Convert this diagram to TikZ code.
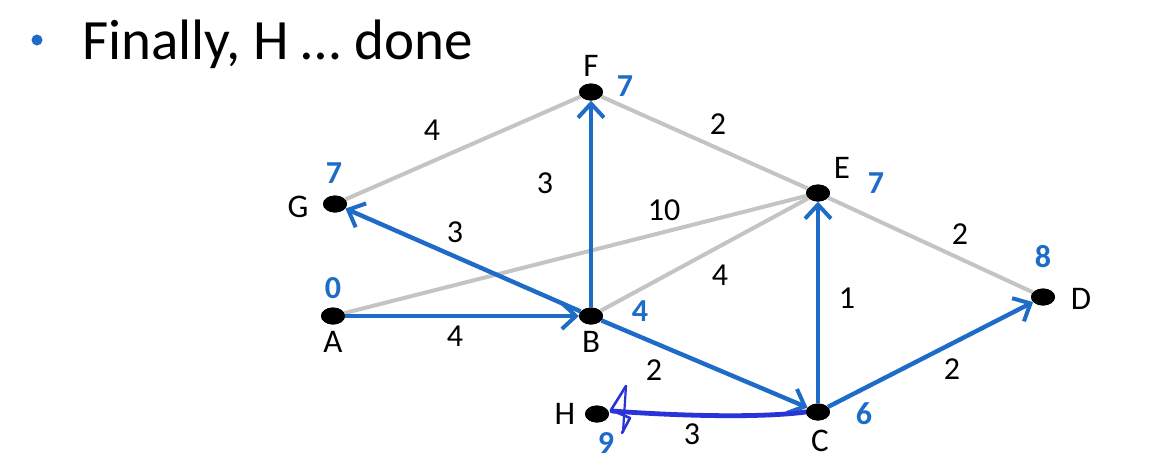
\documentclass[tikz,border=0pt]{standalone}
\usepackage{fontspec}
\setmainfont{Carlito}
\usetikzlibrary{shapes.geometric,arrows.meta}
\definecolor{myblue}{HTML}{1F6CC8}
\definecolor{penblue}{HTML}{2A33D6}
\definecolor{edgegray}{HTML}{C4C4C4}
\tikzset{
  vtx/.style={ellipse,fill=black,minimum width=24pt,minimum height=17pt,inner sep=0pt},
  lbl/.style={font=\fontsize{33}{33}\selectfont,text=black,inner sep=0pt},
  dist/.style={font=\fontsize{32}{32}\selectfont\bfseries,text=myblue,inner sep=0pt},
  wt/.style={font=\fontsize{32}{32}\selectfont,text=black,inner sep=0pt},
  grayedge/.style={draw=edgegray,line width=4pt},
  blueedge/.style={draw=myblue,line width=4.4pt,-{Straight Barb[length=14pt,width=26pt,line width=4pt]}},
}
\begin{document}
\begin{tikzpicture}[x=1pt,y=-1pt]
\useasboundingbox (0,0) rectangle (1162,472);
\fill[white] (0,0) rectangle (1162,472);
% title
\fill[myblue] (37,40) circle (5.5);
\node[anchor=base west,inner sep=0pt,font=\fontsize{57}{57}\selectfont] (title) at (82,59) {Finally, H … done};
% vertices
\node[vtx] (F) at (591,92) {};
\node[vtx] (G) at (335,204) {};
\node[vtx] (E) at (818,193) {};
\node[vtx] (A) at (333,316) {};
\node[vtx] (B) at (591,316) {};
\node[vtx] (D) at (1043,297) {};
\node[vtx] (C) at (818,412) {};
\node[vtx] (H) at (597,414) {};
% gray edges
\draw[grayedge] (G) -- (F);
\draw[grayedge] (F) -- (E);
\draw[grayedge] (A) -- (E);
\draw[grayedge] (B) -- (E);
\draw[grayedge] (E) -- (D);
% blue edges
\draw[blueedge] (A) -- (B);
\draw[blueedge] (B) -- (G);
\draw[blueedge] (B) -- (F);
\draw[blueedge] (B) -- (C);
\draw[blueedge] (C) -- (E);
\draw[blueedge] (C) -- (D);
% hand-drawn arrow C -> H
\coordinate (h1) at (612,411);
\draw[penblue,line width=4.8pt,line cap=round] (C.west) .. controls (760,418) and (680,416) .. (h1);
\draw[penblue,line width=2.6pt,line cap=round,line join=round] (626,386) -- (611,410) -- (630,418) -- (622,433);
\draw[penblue,line width=2.2pt,line cap=round] (626,386) -- (623,432);
% redraw vertices on top
\foreach \n in {F,G,E,A,B,D,C,H} \fill (\n) ellipse (12pt and 8.5pt);
% vertex labels
\node[lbl] (lF) at (591,66) {F};
\node[lbl] (lG) at (298,207) {G};
\node[lbl] (lE) at (842,168) {E};
\node[lbl] (lA) at (333,342) {A};
\node[lbl] (lB) at (591,342) {B};
\node[lbl] (lD) at (1081,299) {D};
\node[lbl] (lC) at (820,441) {C};
\node[lbl] (lH) at (565,414) {H};
% distances
\node[dist] (dF) at (625,86) {7};
\node[dist] (dG) at (334,173) {7};
\node[dist] (dE) at (876,183) {7};
\node[dist] (dA) at (333,288) {0};
\node[dist] (dB) at (640,311) {4};
\node[dist] (dD) at (1043,257) {8};
\node[dist] (dC) at (864,414) {6};
\node[dist] (dH) at (606,443) {9};
% weights
\node[wt] (wGF) at (432,130) {4};
\node[wt] (wFE) at (718,124) {2};
\node[wt] (wBF) at (545,183) {3};
\node[wt] (wAE) at (664,210) {10};
\node[wt] (wGB) at (455,232) {3};
\node[wt] (wBE) at (720,275) {4};
\node[wt] (wED) at (960,234) {2};
\node[wt] (wCE) at (847,298) {1};
\node[wt] (wAB) at (455,336) {4};
\node[wt] (wBC) at (654,370) {2};
\node[wt] (wCD) at (952,369) {2};
\node[wt] (wCH) at (692,434) {3};
\end{tikzpicture}
\end{document}
